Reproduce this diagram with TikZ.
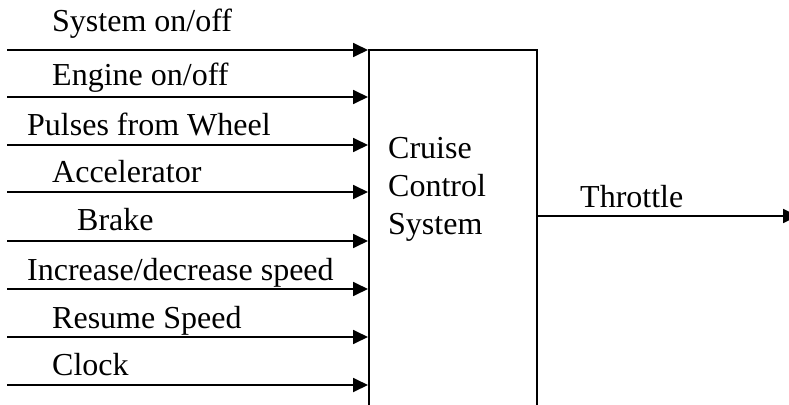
\documentclass[tikz,border=0pt]{standalone}
\usepackage{fontspec}
\setmainfont{Liberation Serif}
\usetikzlibrary{arrows.meta}
\begin{document}
\begin{tikzpicture}[x=1pt,y=-1pt,
  lbl/.style={anchor=base west,inner sep=0pt,font=\fontsize{32}{38}\selectfont},
  sig/.style={line width=1.8pt,-{Triangle[length=15pt,width=14pt]}},
  blk/.style={draw,line width=1.8pt,minimum width=168pt,minimum height=380pt,anchor=north west,inner sep=0pt}]
\clip (0,0) rectangle (789,404);
\node[blk] (box) at (368,49) {};
\node[lbl,align=left,anchor=north west] (boxtxt) at (388,137) {Cruise\\Control\\System};
% input start points
\coordinate (i1) at (7,50);
\coordinate (i2) at (7,97);
\coordinate (i3) at (7,145);
\coordinate (i4) at (7,192);
\coordinate (i5) at (7,241);
\coordinate (i6) at (7,289);
\coordinate (i7) at (7,337);
\coordinate (i8) at (7,385);
\coordinate (out) at (798,216);
% labels
\node[lbl] (l1) at (52,32) {System on/off};
\node[lbl] (l2) at (52,85) {Engine on/off};
\node[lbl] (l3) at (27,135) {Pulses from Wheel};
\node[lbl] (l4) at (52,182) {Accelerator};
\node[lbl] (l5) at (77,230) {Brake};
\node[lbl] (l6) at (27,280) {Increase/decrease speed};
\node[lbl] (l7) at (52,328) {Resume Speed};
\node[lbl] (l8) at (52,375) {Clock};
\node[lbl] (lt) at (580,207) {Throttle};
% connectors
\foreach \i in {1,...,8} {
  \draw[sig] (i\i) -- (i\i -| box.west);
}
\draw[sig] (out -| box.east) -- (out);
\end{tikzpicture}
\end{document}
